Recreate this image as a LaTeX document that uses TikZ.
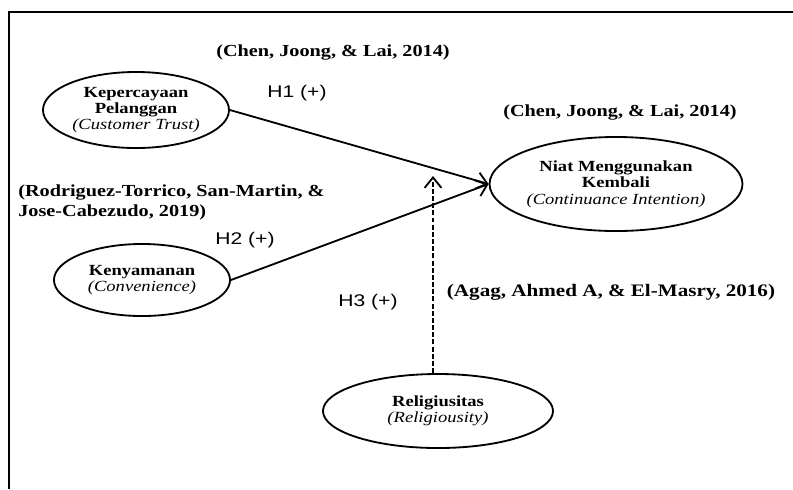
\documentclass[tikz,border=0pt]{standalone}
\usepackage{fontspec}
\setmainfont{Liberation Serif}[FakeStretch=1.2]
\setsansfont{Liberation Sans}[FakeStretch=1.25]
\usepackage{tikz}
\usetikzlibrary{arrows.meta,positioning,shapes.geometric}

\tikzset{
  var/.style={ellipse, draw=black, line width=1.3pt, inner sep=0pt, align=center,
    font=\fontsize{11}{11.6}\selectfont},
  cite/.style={font=\fontsize{12}{14.2}\selectfont\bfseries, inner sep=0pt},
  hyp/.style={font=\fontsize{12}{14}\selectfont\sffamily, inner sep=0pt},
  path/.style={line width=1.3pt, -{Straight Barb[length=2.6mm,width=4.2mm,line width=1.3pt]}}
}

\begin{document}
\begin{tikzpicture}[x=0.025cm, y=-0.025cm]
  \useasboundingbox (0,0) rectangle (793,489);
  % frame
  \draw[line width=1.8pt] (9,489) -- (9,12) -- (793,12);

  % variables
  \node (trust) [var, minimum width=4.65cm, minimum height=1.9cm] at (136,110)
    {\textbf{Kepercayaan}\\ \textbf{Pelanggan}\\ \textit{(Customer Trust)}};
  \node (conv) [var, minimum width=4.4cm, minimum height=1.8cm] at (142,280)
    {\textbf{Kenyamanan}\\ \textit{(Convenience)}};
  \node (intent) [var, minimum width=5.85cm, minimum height=2.35cm] at (616,184)
    {\textbf{Niat Menggunakan}\\ \textbf{Kembali}\\ \textit{(Continuance Intention)}};
  \node (relig) [var, minimum width=5.75cm, minimum height=1.85cm] at (438,411)
    {\textbf{Religiusitas}\\ \textit{(Religiousity)}};

  % references
  \node (cite1) [cite] at (333,53) {(Chen, Joong, \& Lai, 2014)};
  \node (cite2) [cite] at (620,113) {(Chen, Joong, \& Lai, 2014)};
  \node (cite3) [cite, anchor=west, align=left] at (18,202)
    {(Rodriguez-Torrico, San-Martin, \&\\ Jose-Cabezudo, 2019)};
  \node (cite4) [cite, font=\fontsize{12.5}{14}\selectfont\bfseries] at (611,292)
    {(Agag, Ahmed A, \& El-Masry, 2016)};

  % hypotheses
  \node (h1) [hyp] at (297,93) {H1 (+)};
  \node (h2) [hyp] at (245,240) {H2 (+)};
  \node (h3) [hyp] at (368,302) {H3 (+)};

  \coordinate (h3tip) at (433,176);

  \draw [path] (trust.east) -- (intent.west);
  \draw [path] (conv.east) -- (intent.west);
  \draw [path, dash pattern=on 3.5pt off 1.6pt] (relig.north -| h3tip) -- (h3tip);
\end{tikzpicture}
\end{document}
